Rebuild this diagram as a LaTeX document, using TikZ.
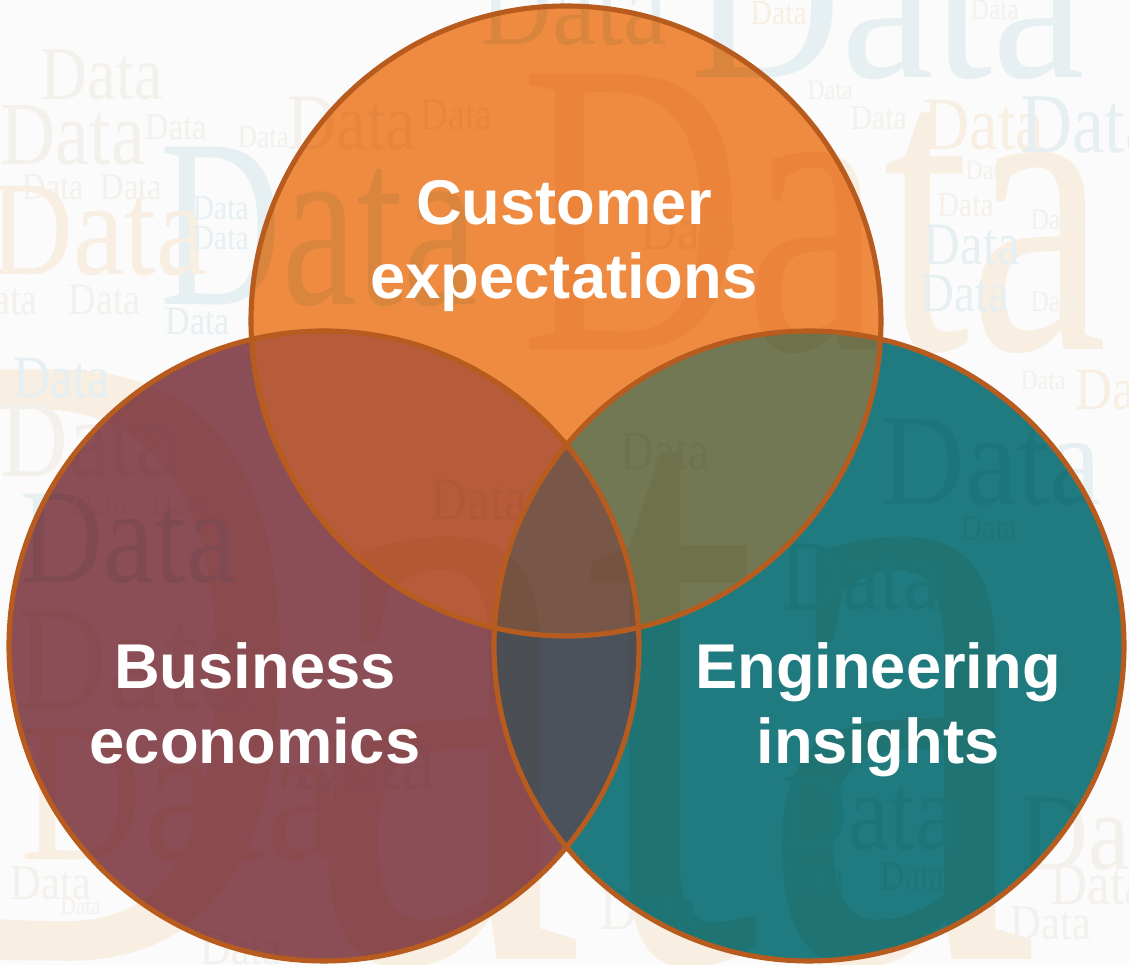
\documentclass[tikz,border=0pt]{standalone}
\usepackage{fontspec}
\setmainfont{Liberation Serif}
\newfontfamily\labelfont{Liberation Sans}
\definecolor{vennOrange}{HTML}{F28E42}
\definecolor{vennMaroon}{HTML}{8F5058}
\definecolor{vennTeal}{HTML}{207D82}
\definecolor{vennOM}{HTML}{B95E3C}
\definecolor{vennOT}{HTML}{737A55}
\definecolor{vennMT}{HTML}{4E545E}
\definecolor{vennAll}{HTML}{7A584A}
\definecolor{vennRim}{HTML}{B75C1E}
\definecolor{wordPeach}{HTML}{F8EEE2}
\definecolor{wordBlue}{HTML}{E6EFF1}
\definecolor{wordGrey}{HTML}{F4F0EC}
\definecolor{paper}{HTML}{FBFBFB}

\begin{document}
\begin{tikzpicture}[
    x=0.01cm, y=-0.01cm,
    bgword/.style={anchor=base west, inner sep=0pt},
    rim/.style={draw=vennRim, line width=1.45pt},
    venntext/.style={text=white, align=center, inner sep=0pt,
                     font=\labelfont\bfseries\fontsize{18}{21.3}\selectfont},
    blot/.style={blend mode=multiply},
]

%-----------------------------------------------------------------------
% paper and word cloud
\fill[paper] (0,0) rectangle (1129,965);
\useasboundingbox (0,0) rectangle (1129,965);

\foreach \X/\Y/\S/\C/\W [count=\i] in {
    -150/960/900/wordPeach/0.7, 520/350/420/wordPeach/0.74,
    690/78/220/wordBlue/0.95, 160/305/240/wordBlue/0.7,
    480/45/110/wordBlue/0.9, 880/505/130/wordBlue/0.9,
    40/100/76/wordGrey/0.85, 0/165/90/wordGrey/0.85,
    145/140/38/wordGrey/0.85, 237/148/32/wordGrey/0.85,
    287/150/80/wordGrey/0.85, 22/200/38/wordGrey/0.85,
    100/200/38/wordGrey/0.85, -10/275/135/wordPeach/0.85,
    192/220/35/wordBlue/0.85, 192/250/35/wordBlue/0.85,
    -35/315/45/wordGrey/0.85, 68/315/45/wordGrey/0.85,
    165/335/40/wordBlue/0.85, 13/398/60/wordBlue/0.85,
    0/477/110/wordGrey/0.85, 20/583/135/wordBlue/0.85,
    70/515/35/wordGrey/0.85, 150/515/35/wordGrey/0.85,
    15/710/150/wordGrey/0.85, 20/860/200/wordPeach/0.85,
    60/915/25/wordGrey/0.85, 290/790/90/wordGrey/0.85,
    750/25/35/wordPeach/0.85, 970/20/30/wordGrey/0.85,
    807/100/28/wordGrey/0.85, 850/130/35/wordGrey/0.85,
    923/150/75/wordPeach/0.85, 1020/153/85/wordBlue/0.85,
    965/180/28/wordGrey/0.85, 937/217/35/wordGrey/0.85,
    1030/230/30/wordGrey/0.85, 923/265/60/wordBlue/0.85,
    920/312/55/wordBlue/0.85, 1030/312/30/wordGrey/0.85,
    1075/410/60/wordPeach/0.85, 1020/390/28/wordGrey/0.85,
    960/540/35/wordGrey/0.85, 780/610/100/wordGrey/0.85,
    780/850/110/wordGrey/0.85, 780/890/40/wordGrey/0.85,
    880/890/40/wordGrey/0.85, 1020/870/110/wordGrey/0.85,
    1010/940/50/wordGrey/0.85, 10/900/50/wordGrey/0.85,
    200/965/50/wordGrey/0.85, 1050/905/60/wordGrey/0.85,
    600/930/60/wordGrey/0.85, 430/520/60/wordGrey/0.85,
    620/470/55/wordGrey/0.85, 420/130/45/wordGrey/0.85,
    640/250/60/wordGrey/0.85}
{
  \pgfmathsetmacro\fs{\S*0.2845}
  \node[bgword, text=\C, font=\fontsize{\fs}{\fs}\selectfont] (w\i) at (\X,\Y)
    {\scalebox{\W}[1]{Data}};
}

%-----------------------------------------------------------------------
% the three circles, filled region by region
\coordinate (oc) at (566,321);  % customer
\coordinate (mc) at (324,646);  % business
\coordinate (tc) at (809,646);  % engineering

% customer only
\begin{scope}[even odd rule]
  \clip (oc) circle (315);
  \clip (0,0) rectangle (1129,965) (mc) circle (315);
  \clip (0,0) rectangle (1129,965) (tc) circle (315);
  \fill[blot, vennOrange] (0,0) rectangle (1129,965);
\end{scope}
% business only
\begin{scope}[even odd rule]
  \clip (mc) circle (315);
  \clip (0,0) rectangle (1129,965) (oc) circle (315);
  \clip (0,0) rectangle (1129,965) (tc) circle (315);
  \fill[blot, vennMaroon] (0,0) rectangle (1129,965);
\end{scope}
% engineering only
\begin{scope}[even odd rule]
  \clip (tc) circle (315);
  \clip (0,0) rectangle (1129,965) (oc) circle (315);
  \clip (0,0) rectangle (1129,965) (mc) circle (315);
  \fill[blot, vennTeal] (0,0) rectangle (1129,965);
\end{scope}
% customer + business
\begin{scope}[even odd rule]
  \clip (oc) circle (315);
  \clip (mc) circle (315);
  \clip (0,0) rectangle (1129,965) (tc) circle (315);
  \fill[blot, vennOM] (0,0) rectangle (1129,965);
\end{scope}
% customer + engineering
\begin{scope}[even odd rule]
  \clip (oc) circle (315);
  \clip (tc) circle (315);
  \clip (0,0) rectangle (1129,965) (mc) circle (315);
  \fill[blot, vennOT] (0,0) rectangle (1129,965);
\end{scope}
% business + engineering
\begin{scope}[even odd rule]
  \clip (mc) circle (315);
  \clip (tc) circle (315);
  \clip (0,0) rectangle (1129,965) (oc) circle (315);
  \fill[blot, vennMT] (0,0) rectangle (1129,965);
\end{scope}
% all three
\begin{scope}
  \clip (oc) circle (315);
  \clip (mc) circle (315);
  \clip (tc) circle (315);
  \fill[blot, vennAll] (0,0) rectangle (1129,965);
\end{scope}

\draw[rim] (oc) circle (315);
\draw[rim] (mc) circle (315);
\draw[rim] (tc) circle (315);

%-----------------------------------------------------------------------
% labels
\node[venntext] (cust) at (564,246) {Customer\\expectations};
\node[venntext] (bus) at (255,703) {Business\\economics};
\node[venntext] (eng) at (878,710) {Engineering\\insights};

\end{tikzpicture}
\end{document}
